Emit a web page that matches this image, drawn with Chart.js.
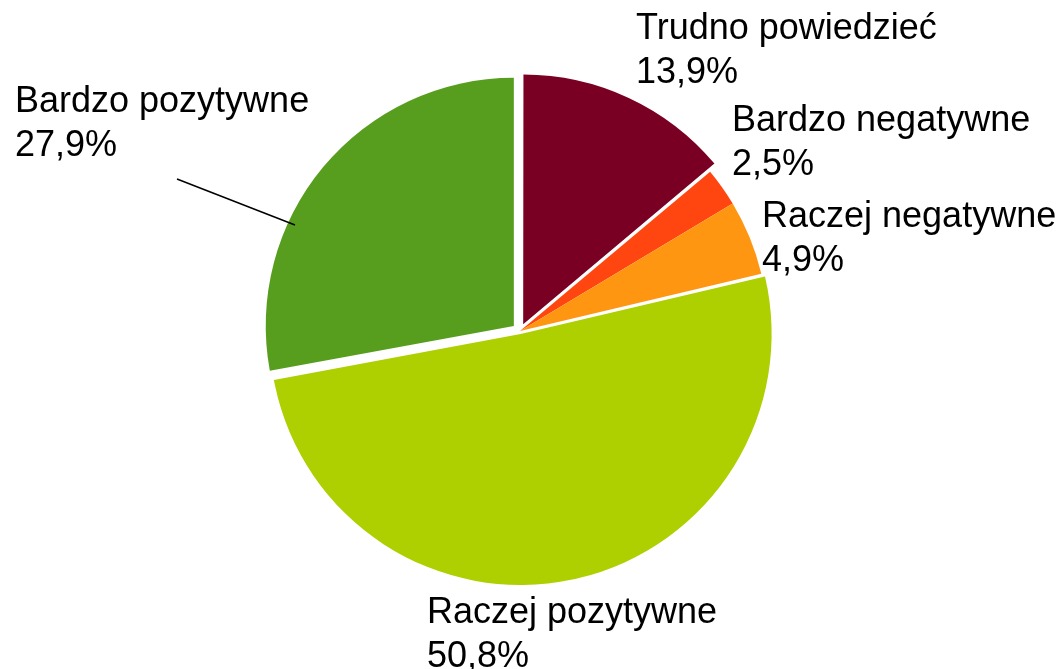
<!DOCTYPE html>
<html>
<head>
<meta charset="utf-8">
<script src="https://cdn.jsdelivr.net/npm/chart.js@4"></script>
<style>
  html, body { margin: 0; padding: 0; background: #fff; }
  #wrap { width: 1064px; height: 669px; }
</style>
</head>
<body>
<div id="wrap"><canvas id="chart1"></canvas></div>
<script>
const labels = ['Trudno powiedzieć', 'Bardzo negatywne', 'Raczej negatywne', 'Raczej pozytywne', 'Bardzo pozytywne'];
const values = [13.9, 2.5, 4.9, 50.8, 27.9];
const colors = ["#7A0023", "#FF4510", "#FF9612", "#AECF00", "#589E1E"];
// chart.js divides arc offset by 4 when drawing
const offsets = [30, 0, 0, 12, 32];

// where each label's first line sits (left x, baseline y)
const labelPos = [[636, 39], [732, 131], [762, 227], [427, 623], [15, 112]];
const lineHeight = 43.5;

const outsideLabels = {
    id: 'outsideLabels',
    afterDatasetsDraw(chart) {
        const ctx = chart.ctx;
        ctx.save();
        ctx.fillStyle = '#000';
        ctx.font = '36px "Liberation Sans", Arial, sans-serif';
        ctx.textAlign = 'left';
        ctx.textBaseline = 'alphabetic';
        chart.data.labels.forEach((lab, i) => {
            const [x, y] = labelPos[i];
            ctx.fillText(lab, x, y);
            ctx.fillText(values[i].toFixed(1).replace('.', ',') + '%', x, y + lineHeight);
        });
        // leader line for Bardzo pozytywne
        ctx.strokeStyle = '#000';
        ctx.lineWidth = 1.5;
        ctx.beginPath();
        ctx.moveTo(177, 179);
        ctx.lineTo(295, 225);
        ctx.stroke();
        ctx.restore();
    }
};

new Chart(document.getElementById('chart1'), {
    type: 'pie',
    data: {
        labels: labels,
        datasets: [{
            data: values,
            backgroundColor: colors,
            borderWidth: 0,
            offset: offsets
        }]
    },
    options: {
        responsive: true,
        maintainAspectRatio: false,
        animation: false,
        radius: 248,
        layout: { padding: { left: 0, right: 24, top: 0, bottom: 7 } },
        plugins: {
            legend: { display: false },
            tooltip: { enabled: false }
        }
    },
    plugins: [outsideLabels]
});
</script>
</body>
</html>
